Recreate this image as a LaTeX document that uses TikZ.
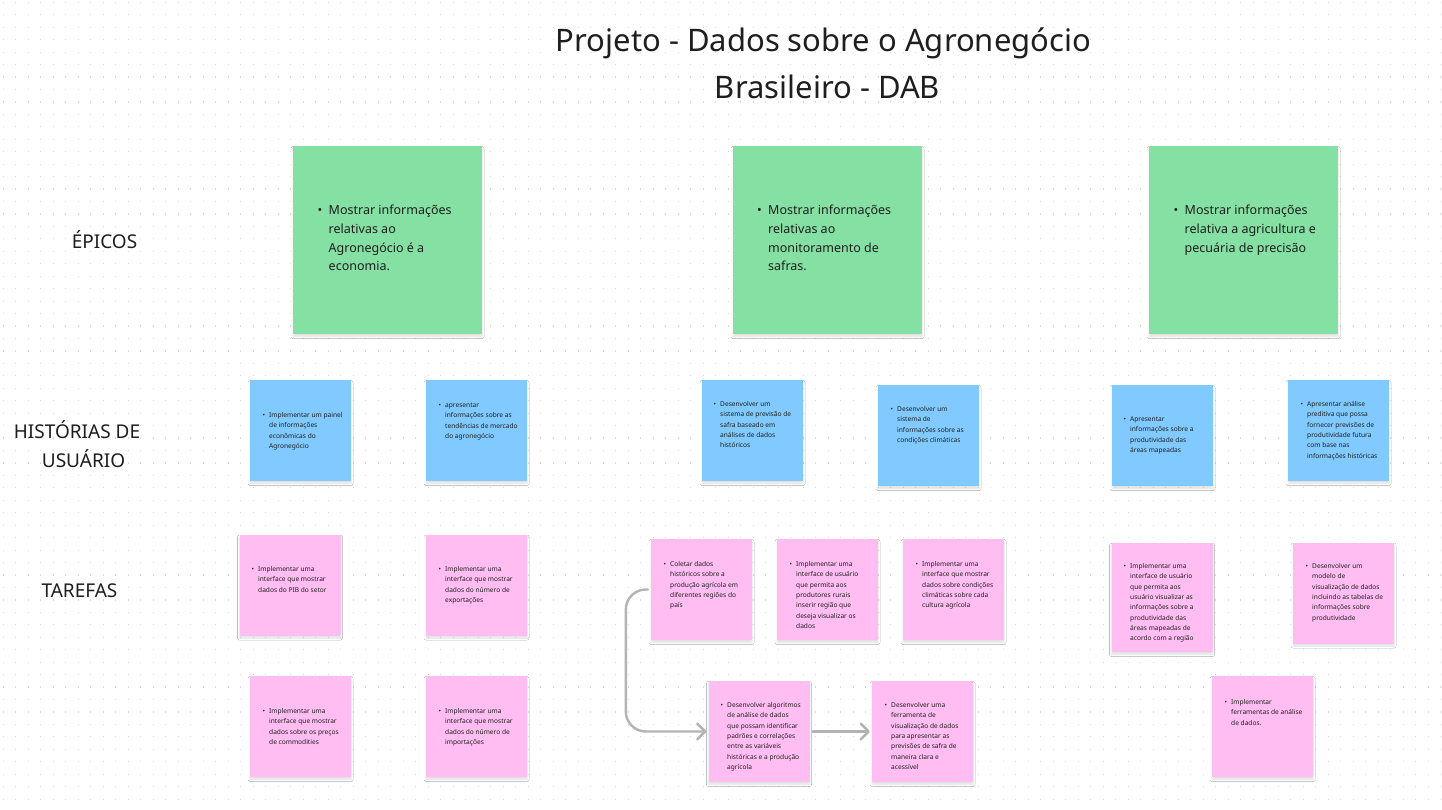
\documentclass[tikz,border=0pt]{standalone}
\usepackage{fontspec}
\setmainfont{Noto Sans}
\usetikzlibrary{arrows.meta,shadows.blur}
\definecolor{txt}{HTML}{1E1E1E}
\definecolor{dotc}{HTML}{DADADA}
\definecolor{epicg}{HTML}{85E0A3}
\definecolor{storyb}{HTML}{80CAFF}
\definecolor{taskp}{HTML}{FFBDF2}
\definecolor{connc}{HTML}{B3B3B3}
\newcommand\smalllines[1]{{\fontsize{6.6}{10.3}\selectfont\renewcommand\arraystretch{1}\begin{tabular}[t]{@{}l@{}}\llap{\textbullet\hspace{4pt}}#1\end{tabular}}}
\newcommand\biglines[1]{{\fontsize{12.5}{18.8}\selectfont\renewcommand\arraystretch{1}\begin{tabular}[t]{@{}l@{}}\llap{\textbullet\hspace{6.5pt}}#1\end{tabular}}}
\tikzset{
  note/.style={rectangle, draw=none, inner sep=0pt, blur shadow={shadow xshift=0pt, shadow yshift=-2.5pt, shadow blur radius=2pt, shadow blur steps=5, shadow opacity=12}},
  epic/.style={note, fill=epicg, minimum width=189pt, minimum height=188pt},
  story/.style={note, fill=storyb, minimum width=101pt, minimum height=101pt},
  task/.style={note, fill=taskp, minimum width=101pt, minimum height=101pt},
  ntext/.style={anchor=base west, inner sep=0pt, text=txt},
  rowlabel/.style={anchor=base, inner sep=0pt, text=txt, font=\fontsize{19}{29}\selectfont, align=center},
  conn/.style={draw=connc, line width=2.4pt, line cap=round, line join=round, -{Straight Barb[length=8pt, width=16pt, line width=2.4pt, round]}}
}
\begin{document}
\begin{tikzpicture}[x=1pt, y=-1pt]
\useasboundingbox[fill=white] (0,0) rectangle (1442,809);
% dot grid
\foreach \i in {0,...,115} {
  \foreach \j in {0,...,64} {
    \fill[dotc] ({3.3+12.5*\i-0.6}, {2.3+12.45*\j-0.6}) rectangle ++(1.2,1.2);
  }
}
% title
\node[anchor=base, inner sep=0pt, text=txt, font=\fontsize{31}{47}\selectfont] (title1) at (823.5,51) {Projeto - Dados sobre o Agronegócio};
\node[anchor=base, inner sep=0pt, text=txt, font=\fontsize{31}{47}\selectfont] (title2) at (827.5,98.3) {Brasileiro - DAB};
% row labels
\node[rowlabel] (lep) at (104.5,248) {ÉPICOS};
\node[rowlabel] (lhu1) at (77,438) {HISTÓRIAS DE};
\node[rowlabel] (lhu2) at (83.5,467) {USUÁRIO};
\node[rowlabel] (lta) at (79.5,597) {TAREFAS};
% epics
\node[epic] (e1) at (387.5,240) {};
\node[epic] (e2) at (827.5,240) {};
\node[epic] (e3) at (1243.5,240) {};
\node[ntext] (e1x) at (328.5,214.5) {\biglines{Mostrar informações\\relativas ao\\Agronegócio é a\\economia.}};
\node[ntext] (e2x) at (768,214.5) {\biglines{Mostrar informações\\relativas ao\\monitoramento de\\safras.}};
\node[ntext] (e3x) at (1184.5,214.5) {\biglines{Mostrar informações\\relativa a agricultura e\\pecuária de precisão}};
% user stories
\node[story] (b1) at (300.5,430.5) {};
\node[story] (b2) at (476.5,430.5) {};
\node[story] (b3) at (752.5,430.5) {};
\node[story] (b4) at (928.5,435.5) {};
\node[story] (b5) at (1162.5,435.5) {};
\node[story] (b6) at (1338.5,430.5) {};
\node[ntext] (b1x) at (269,417.5) {\smalllines{Implementar um painel\\de informações\\econômicas do\\Agronegócio}};
\node[ntext] (b2x) at (445,407.5) {\smalllines{apresentar\\informações sobre as\\tendências de mercado\\do agronegócio}};
\node[ntext] (b3x) at (720,406.5) {\smalllines{Desenvolver um\\sistema de previsão de\\safra baseado em\\análises de dados\\históricos}};
\node[ntext] (b4x) at (897,411.5) {\smalllines{Desenvolver um\\sistema de\\informações sobre as\\condições climáticas}};
\node[ntext] (b5x) at (1130,421.5) {\smalllines{Apresentar\\informações sobre a\\produtividade das\\áreas mapeadas}};
\node[ntext] (b6x) at (1307,406.5) {\smalllines{Apresentar análise\\preditiva que possa\\fornecer previsões de\\produtividade futura\\com base nas\\informações históricas}};
% tasks
\node[task] (t1) at (290,585) {};
\node[task] (t2) at (476.5,585) {};
\node[task] (t3) at (701.5,589.5) {};
\node[task] (t4) at (827.5,589.5) {};
\node[task] (t5) at (953.5,589.5) {};
\node[task, minimum height=109pt] (t6) at (1162,597.5) {};
\node[task] (t7) at (1343.5,593) {};
\node[task] (t8) at (300.5,726.5) {};
\node[task] (t9) at (476.5,726.5) {};
\node[task] (t10) at (759,731.5) {};
\node[task] (t11) at (922.5,731.5) {};
\node[task] (t12) at (1262.5,726.5) {};
\node[ntext] (t1x) at (258,571.5) {\smalllines{Implementar uma\\interface que mostrar\\dados do PIB do setor}};
\node[ntext] (t2x) at (445,571.5) {\smalllines{Implementar uma\\interface que mostrar\\dados do número de\\exportações}};
\node[ntext] (t3x) at (670,566.5) {\smalllines{Coletar dados\\históricos sobre a\\produção agrícola em\\diferentes regiões do\\país}};
\node[ntext] (t4x) at (796,566.5) {\smalllines{Implementar uma\\interface de usuário\\que permita aos\\produtores rurais\\inserir região que\\deseja visualizar os\\dados}};
\node[ntext] (t5x) at (922,566.5) {\smalllines{Implementar uma\\interface que mostrar\\dados sobre condições\\climáticas sobre cada\\cultura agrícola}};
\node[ntext] (t6x) at (1130,568.5) {\smalllines{Implementar uma\\interface de usuário\\que permita aos\\usuário visualizar as\\informações sobre a\\produtividade das\\áreas mapeadas de\\acordo com a região}};
\node[ntext] (t7x) at (1312,568.5) {\smalllines{Desenvolver um\\modelo de\\visualização de dados\\incluindo as tabelas de\\informações sobre\\produtividade}};
\node[ntext] (t8x) at (269,713.5) {\smalllines{Implementar uma\\interface que mostrar\\dados sobre os preços\\de commodities}};
\node[ntext] (t9x) at (445,713.5) {\smalllines{Implementar uma\\interface que mostrar\\dados do número de\\importações}};
\node[ntext] (t10x) at (727,707.5) {\smalllines{Desenvolver algoritmos\\de análise de dados\\que possam identificar\\padrões e correlações\\entre as variáveis\\históricas e a produção\\agrícola}};
\node[ntext] (t11x) at (891,707.5) {\smalllines{Desenvolver uma\\ferramenta de\\visualização de dados\\para apresentar as\\previsões de safra de\\maneira clara e\\acessível}};
\node[ntext] (t12x) at (1231,704.5) {\smalllines{Implementar\\ferramentas de análise\\de dados.}};
% connectors
\draw[conn, rounded corners=20pt, shorten <=3pt, shorten >=2pt] (t3.west) -- ++(-25,0) |- (t10.west);
\draw[conn, shorten <=3pt, shorten >=2pt] (t10.east) -- (t11.west);
\end{tikzpicture}
\end{document}
